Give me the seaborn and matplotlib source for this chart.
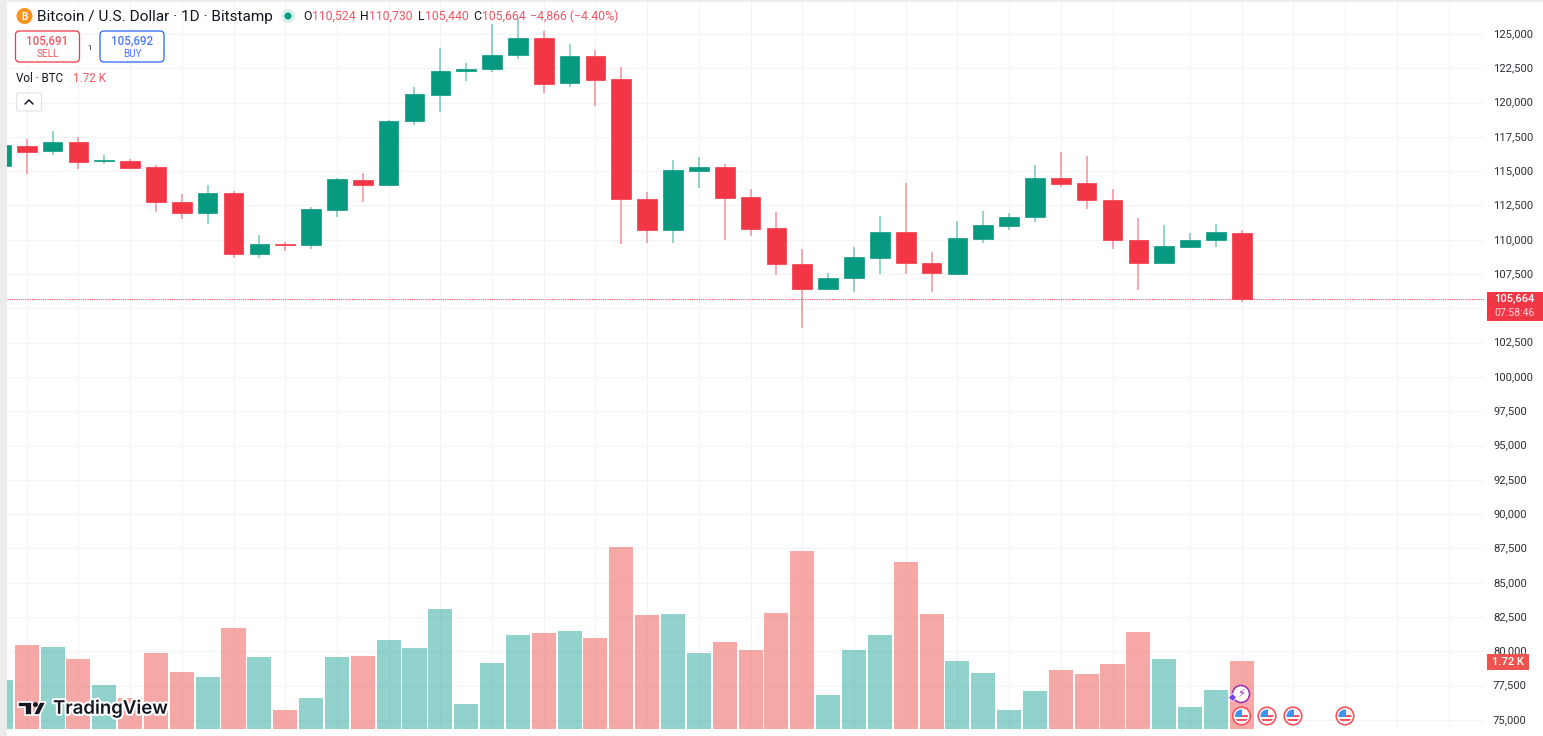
import numpy as np
import pandas as pd
import matplotlib
matplotlib.use('Agg')
import matplotlib.pyplot as plt
import matplotlib.patheffects as pe
from matplotlib.patches import Circle, FancyBboxPatch, Polygon, Rectangle
from matplotlib.transforms import ScaledTranslation
import seaborn as sns

# daily candles, first one is the partly hidden candle at the left edge
day = list(range(-1, 48))
open_ = [115400, 116860, 116490, 117130, 115720, 115760, 115310, 112750, 111970, 113390,
         108960, 109690, 109640, 112170, 114340, 114020, 118660, 120580, 122280, 122430,
         123450, 124730, 121410, 123370, 121720, 112970, 110740, 115040, 115310, 113100,
         110840, 108240, 106440, 107190, 108700, 110570, 108310, 107530, 110060, 111030,
         111640, 114530, 114120, 112900, 110010, 108290, 109500, 110010, 110524]
close = [116890, 116420, 117130, 115670, 115790, 115250, 112730, 111970, 113390, 108960,
         109670, 109640, 112220, 114410, 114020, 118660, 120630, 122330, 122470, 123490,
         124730, 121330, 123370, 121670, 113000, 110740, 115090, 115280, 113070, 110810,
         108210, 106440, 107220, 108720, 110570, 108330, 107600, 110110, 111060, 111660,
         114530, 114090, 112920, 110010, 108290, 109530, 110010, 110570, 105664]
high = [117000, 117320, 117950, 117470, 116180, 115910, 115430, 113360, 113990, 113580,
        110370, 109840, 112370, 114480, 114890, 118730, 121110, 123960, 122890, 125710,
        126140, 125220, 124270, 123830, 122620, 113460, 115840, 116060, 115520, 113680,
        112030, 109310, 107560, 109500, 111730, 114140, 109130, 111350, 112080, 111930,
        115450, 116400, 116110, 113680, 111610, 111060, 110520, 111130, 110730]
low = [115300, 114800, 116200, 115180, 115550, 115200, 112050, 111490, 111170, 108700,
       108700, 109180, 109310, 111640, 112730, 114020, 118390, 119340, 121600, 122230,
       123160, 120680, 121140, 119750, 109690, 109790, 109790, 113800, 110010, 110250,
       107460, 103570, 106440, 106170, 107510, 107510, 106170, 107530, 109790, 110740,
       111300, 113870, 112240, 109310, 106360, 108290, 109420, 109500, 105440]

# volume in thousands of BTC
volume = [1.25, 2.13, 2.08, 1.79, 1.12, 0.79, 1.93, 1.45, 1.31, 2.57,
          1.84, 0.48, 0.79, 1.84, 1.85, 2.26, 2.06, 3.05, 0.64, 1.67,
          2.39, 2.43, 2.48, 2.31, 4.62, 2.90, 2.93, 1.93, 2.22, 2.01,
          2.95, 4.52, 0.86, 2.01, 2.39, 4.24, 2.93, 1.72, 1.42, 0.48,
          0.96, 1.50, 1.39, 1.65, 2.46, 1.77, 0.57, 0.98, 1.72]

price_ticks = list(range(75000, 127500, 2500))
time_grid = list(range(0, 44, 2)) + [45, 47, 49, 51, 53, 55]
last_price = 105664

UP = '#089981'
DOWN = '#F23645'
TEXT = '#131722'

sns.set_theme(style='white')
plt.rcParams['font.family'] = ['Roboto', 'DejaVu Sans']

df = pd.DataFrame({'day': day, 'open': open_, 'close': close, 'high': high, 'low': low, 'volume': volume})
df['side'] = np.where(df.close >= df.open, 'up', 'down')

W, H = 1543, 736
fig = plt.figure(figsize=(W / 100, H / 100), dpi=100, facecolor='white')
ax = fig.add_axes([7 / W, 7 / H, 1477 / W, 729 / H])
ax.set_facecolor('white')

# wicks and bodies
for side, col in [('up', UP), ('down', DOWN)]:
    d = df[df.side == side]
    ax.vlines(d.day, d.low, d.high, color=col, alpha=0.5, lw=1.2, zorder=3)
    ax.bar(d.day, (d.close - d.open).abs(), bottom=d[['open', 'close']].min(axis=1),
           width=0.76, color=col, edgecolor=col, linewidth=0.5, zorder=4)

ax.axhline(last_price, color='#F7525F', lw=0.8, ls=(0, (1, 1)), zorder=2)

# volume pane shares the time axis
vol_ax = ax.twinx()
sns.barplot(data=df, x='day', y='volume', hue='side', palette={'up': '#26A69A', 'down': '#EF5350'},
            native_scale=True, dodge=False, width=0.93, alpha=0.5, saturation=1, linewidth=0,
            legend=False, ax=vol_ax)
vol_ax.set_ylim(0, 18.52)
vol_ax.set_yticks([])
vol_ax.set_xlabel('')
vol_ax.set_ylabel('')
vol_ax.patch.set_visible(False)

ax.set_xlim(-0.762, 56.37)
ax.set_ylim(74342, 127478)
ax.set_xticks(time_grid)
ax.set_xticklabels([])
ax.set_yticks(price_ticks)
# 105,000 is covered by the last price tag
ax.set_yticklabels(['' if p == 105000 else f'{p:,}' for p in price_ticks])
ax.yaxis.tick_right()
ax.tick_params(axis='both', length=0)
ax.tick_params(axis='y', pad=6.5, labelsize=8.1, labelcolor='#2E3038')
ax.grid(True, color='#F3F4F6', lw=0.8)
ax.set_axisbelow(True)
# the labels sit a hair above their grid lines
nudge = ScaledTranslation(0, 1 / 100, fig.dpi_scale_trans)
for lab in ax.get_yticklabels():
    lab.set_transform(lab.get_transform() + nudge)
for a in (ax, vol_ax):
    for s in a.spines.values():
        s.set_visible(False)

# overlay in screen pixels for the TradingView furniture
ov = fig.add_axes([0, 0, 1, 1], zorder=10)
ov.set_xlim(0, W)
ov.set_ylim(H, 0)
ov.axis('off')
ov.patch.set_visible(False)

ov.add_patch(Rectangle((0, 0), 7, H, color='#ECECEC', lw=0))
ov.add_patch(Rectangle((0, 0), W, 1.5, color='#ECECEC', lw=0))

# header line
ov.add_patch(Circle((24.5, 16), 8, color='#F7931A', lw=0))
ov.text(24.5, 16.5, 'B', color='white', fontsize=7, weight='bold', ha='center', va='center')
ov.text(37, 17, 'Bitcoin / U.S. Dollar · 1D · Bitstamp', color=TEXT, fontsize=11.1, va='center')
ov.add_patch(Circle((288, 16), 7, color='#089981', alpha=0.15, lw=0))
ov.add_patch(Circle((288, 16), 3.5, color='#089981', lw=0))
for x, label, col in [(303, 'O', TEXT), (312, '110,524', DOWN), (360, 'H', TEXT), (369, '110,730', DOWN),
                      (418, 'L', TEXT), (425, '105,440', DOWN), (473, 'C', TEXT), (482, '105,664', DOWN),
                      (530, '−4,866 (−4.40%)', DOWN)]:
    ov.text(x, 16.5, label, color=col, fontsize=8.8, va='center', alpha=0.85 if col == DOWN else 1)

# sell / buy boxes
for x0, col, price, side in [(15.5, DOWN, '105,691', 'SELL'), (100, '#2962FF', '105,692', 'BUY')]:
    ov.add_patch(FancyBboxPatch((x0 + 3, 34), 58, 25, boxstyle='round,pad=3,rounding_size=4', fc='white',
                                ec=col, lw=0.9))
    ov.text(x0 + 32, 41, price, color=col, fontsize=8.3, ha='center', va='center', weight='medium', alpha=0.85)
    ov.text(x0 + 32, 54, side, color=col, fontsize=7.2, ha='center', va='center', alpha=0.85)
ov.text(89.5, 48, '1', color=TEXT, fontsize=5.5, ha='center', va='center')

ov.text(16, 78, 'Vol · BTC', color=TEXT, fontsize=8.4, va='center')
ov.text(73, 78, '1.72 K', color='#F7525F', fontsize=8.4, va='center')

# collapse button
ov.add_patch(FancyBboxPatch((16.5, 93), 25, 18, boxstyle='round,pad=0,rounding_size=2', fc='white', ec='#E0E3EB', lw=0.8))
ov.plot([25, 29, 33], [104, 100, 104], color=TEXT, lw=1.1)

# price and volume tags
ov.add_patch(Rectangle((1487, 292), 56, 29, color=DOWN, lw=0))
ov.text(1494, 299, '105,664', color='white', fontsize=8, weight='medium', va='center')
ov.text(1494, 312.5, '07:58:46', color='white', fontsize=7.6, alpha=0.8, va='center')
ov.add_patch(Rectangle((1487, 654), 42, 16, color='#EF5350', lw=0))
ov.text(1508, 662.3, '1.72 K', color='white', fontsize=8, weight='medium', ha='center', va='center')

# TradingView logo
halo = [pe.withStroke(linewidth=3, foreground='white')]
for shape in [[(18, 702), (32, 702), (32, 715), (25, 715), (25, 707), (18, 707)],
              [(39.5, 702), (46, 702), (39.5, 715), (33, 715)]]:
    ov.add_patch(Polygon(shape, closed=True, fc=TEXT, ec='white', lw=1.2, zorder=5))
ov.add_patch(Circle((35.5, 704.6), 2.4, color=TEXT, lw=0, zorder=5))
ov.text(53, 709, 'TradingView', family='Inter', color=TEXT, fontsize=13.4, weight='semibold', va='center',
        path_effects=halo, zorder=5)

# earnings/news markers below the last candles
def flag(cx, cy):
    ring = Circle((cx, cy), 8.8, fc='white', ec='#F7525F', lw=1.2, zorder=6)
    ov.add_patch(ring)
    disc = Circle((cx, cy), 6.5, transform=ov.transData)
    for box, col in [((cx - 7, cy - 7, 7.5, 7.5), '#3D94EE'),
                     ((cx + 0.5, cy - 1.5, 7, 2.2), '#F7525F'),
                     ((cx - 7, cy + 2.5, 14, 2.2), '#F7525F')]:
        r = Rectangle(box[:2], box[2], box[3], color=col, lw=0, zorder=7)
        ov.add_patch(r)
        r.set_clip_path(disc)

for x in [1241.5, 1267, 1293, 1345]:
    flag(x, 716)

ov.add_patch(Circle((1241, 694), 8.5, fc='white', ec='#9C27B0', lw=1.1, zorder=6))
ov.text(1241, 694, '⚡', family='DejaVu Sans', color='#9C27B0', fontsize=8, ha='center', va='center', zorder=7)
ov.plot([1232], [697], marker='D', ms=4, color='#7B3FF2', mec='white', mew=0.5, zorder=7)

fig.savefig('out.png', dpi=100, facecolor='white')
